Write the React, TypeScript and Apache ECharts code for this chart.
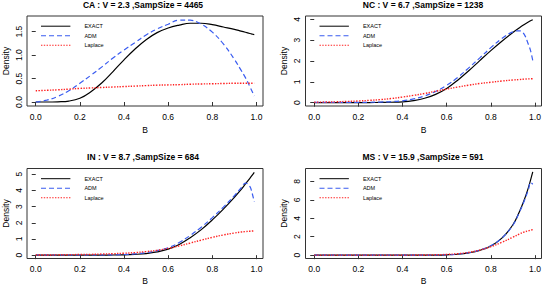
import React, { useEffect, useRef } from "react";
import * as echarts from "echarts";

// Shared B grid (x values)
const bGrid = [0, 0.05, 0.1, 0.15, 0.2, 0.25, 0.3, 0.35, 0.4, 0.45, 0.5, 0.55, 0.6, 0.65, 0.7, 0.75, 0.8, 0.85, 0.9, 0.93, 0.95, 0.97, 0.98, 0.99];

// CA panel
const caExact = [0, 0, 0.005, 0.02, 0.08, 0.22, 0.41, 0.65, 0.9, 1.13, 1.33, 1.48, 1.58, 1.64, 1.68, 1.68, 1.65, 1.6, 1.55, 1.5125, 1.4875, 1.4625, 1.45, 1.4375];
const caAdm = [0, 0.04, 0.12, 0.24, 0.4, 0.57, 0.75, 0.94, 1.11, 1.27, 1.43, 1.56, 1.66, 1.745, 1.745, 1.66, 1.49, 1.24, 0.91, 0.68, 0.52, 0.33, 0.23, 0.13];
const caLaplace = [0.24, 0.25, 0.26, 0.275, 0.29, 0.3, 0.31, 0.32, 0.33, 0.34, 0.35, 0.36, 0.365, 0.37, 0.38, 0.385, 0.39, 0.395, 0.4, 0.4, 0.4, 0.4, 0.4, 0.4];

// NC panel
const ncExact = [0, 0, 0, 0, 0, 0.005, 0.01, 0.02, 0.04, 0.1, 0.21, 0.4, 0.68, 1.08, 1.53, 2.02, 2.5, 2.95, 3.37, 3.6, 3.74, 3.87, 3.93, 3.98];
const ncAdm = [0.01, 0.01, 0.01, 0.01, 0.01, 0.02, 0.03, 0.05, 0.09, 0.18, 0.32, 0.54, 0.83, 1.21, 1.67, 2.15, 2.64, 3.08, 3.4, 3.45, 3.3, 2.8, 2.5, 2.02];
const ncLaplace = [0.02, 0.03, 0.04, 0.06, 0.08, 0.11, 0.15, 0.2, 0.27, 0.35, 0.44, 0.55, 0.65, 0.75, 0.84, 0.92, 0.98, 1.04, 1.09, 1.11, 1.13, 1.14, 1.145, 1.15];

// IN panel
const inExact = [0, 0, 0, 0, 0, 0, 0, 0.01, 0.02, 0.05, 0.1, 0.2, 0.37, 0.66, 1.08, 1.58, 2.18, 2.85, 3.58, 4.05, 4.4, 4.75, 4.93, 5.12];
const inAdm = [0.01, 0.01, 0.01, 0.01, 0.01, 0.01, 0.01, 0.02, 0.04, 0.08, 0.15, 0.28, 0.46, 0.78, 1.22, 1.73, 2.32, 2.97, 3.68, 4.15, 4.45, 4.25, 3.85, 3.3];
const inLaplace = [0.01, 0.01, 0.02, 0.03, 0.04, 0.05, 0.07, 0.09, 0.12, 0.16, 0.22, 0.3, 0.42, 0.57, 0.75, 0.93, 1.1, 1.25, 1.37, 1.43, 1.46, 1.48, 1.49, 1.5];

// MS panel
const msExact = [0, 0, 0, 0, 0, 0, 0, 0, 0, 0, 0, 0.01, 0.04, 0.1, 0.25, 0.52, 1.0, 1.85, 3.3, 4.75, 5.9, 7.3, 8.15, 9.05];
const msAdm = [0.01, 0.01, 0.01, 0.01, 0.01, 0.01, 0.01, 0.01, 0.01, 0.01, 0.01, 0.02, 0.05, 0.12, 0.27, 0.55, 1.03, 1.85, 3.25, 4.7, 5.8, 7.1, 7.9, 7.7];
const msLaplace = [0, 0, 0, 0, 0, 0, 0, 0, 0, 0.01, 0.02, 0.04, 0.08, 0.16, 0.3, 0.55, 0.92, 1.4, 1.95, 2.3, 2.5, 2.65, 2.72, 2.78];

// Titles, tick values, legend
const titles = [
  "CA : V = 2.3 ,SampSize = 4465",
  "NC : V = 6.7 ,SampSize = 1238",
  "IN : V = 8.7 ,SampSize = 684",
  "MS : V = 15.9 ,SampSize = 591",
];
const xTicks = [0, 0.2, 0.4, 0.6, 0.8, 1.0];
const caYTicks = [0, 0.5, 1.0, 1.5];
const ncYTicks = [0, 1, 2, 3, 4];
const inYTicks = [0, 1, 2, 3, 4, 5];
const msYTicks = [0, 2, 4, 6, 8];
const legendNames = ["EXACT", "ADM", "Laplace"];

const FONT = "'Liberation Sans', Arial, Helvetica, sans-serif";
const COLORS = ["#000000", "#3a5cf0", "#ff2020"];
const WIDTHS = [1.2, 1.2, 1.4];
const DASHES: (number[] | null)[] = [null, [5, 3], [1.4, 1.4]];

export default function App() {
  const ref = useRef<HTMLDivElement>(null);

  useEffect(() => {
    if (!ref.current) return;
    const chart = echarts.init(ref.current, null, { renderer: "svg" });

    const panels = [
      { exact: caExact, adm: caAdm, lap: caLaplace, yTicks: caYTicks, yMin: -0.085, yMax: 1.835, fmt: 1 },
      { exact: ncExact, adm: ncAdm, lap: ncLaplace, yTicks: ncYTicks, yMin: -0.16, yMax: 4.16, fmt: 0 },
      { exact: inExact, adm: inAdm, lap: inLaplace, yTicks: inYTicks, yMin: -0.206, yMax: 5.356, fmt: 0 },
      { exact: msExact, adm: msAdm, lap: msLaplace, yTicks: msYTicks, yMin: -0.362, yMax: 9.41, fmt: 0 },
    ];

    const boxLeft = [27, 305.5, 27, 305.5];
    const boxTop = [16, 16, 168.5, 168.5];
    const boxW = 236;
    const boxH = 90;

    const grids = panels.map((_, i) => ({
      left: boxLeft[i],
      top: boxTop[i],
      width: boxW,
      height: boxH,
      show: true,
      borderColor: "#333",
      borderWidth: 1,
      backgroundColor: "transparent",
      containLabel: false,
      outerBoundsMode: "none",
    }));

    const xAxes = panels.map((_, i) => ({
      type: "value",
      gridIndex: i,
      min: -0.0396,
      max: 1.0296,
      axisLine: { show: false },
      splitLine: { show: false },
      axisTick: { show: true, length: 4, customValues: xTicks, lineStyle: { color: "#333", width: 1 } },
      axisLabel: {
        customValues: xTicks,
        formatter: (v: number) => v.toFixed(1),
        fontSize: 8.5,
        color: "#000",
        margin: 6,
        fontFamily: FONT,
      },
      name: "B",
      nameLocation: "middle",
      nameGap: i < 2 ? 19.5 : 17.5,
      nameTextStyle: { fontSize: 8.5, color: "#000", fontFamily: FONT },
    }));

    const yAxes = panels.map((p, i) => ({
      type: "value",
      gridIndex: i,
      min: p.yMin,
      max: p.yMax,
      axisLine: { show: false },
      splitLine: { show: false },
      axisTick: { show: true, length: 4, customValues: p.yTicks, lineStyle: { color: "#333", width: 1 } },
      axisLabel: {
        customValues: p.yTicks,
        formatter: (v: number) => v.toFixed(p.fmt),
        fontSize: 8.5,
        color: "#000",
        rotate: 90,
        margin: 4,
        fontFamily: FONT,
      },
      name: "Density",
      nameLocation: "middle",
      nameGap: 17,
      nameTextStyle: { fontSize: 8.5, color: "#000", fontFamily: FONT },
    }));

    const mk = (vals: number[]) => bGrid.map((b, k) => [b, vals[k]]);

    const series: any[] = [];
    panels.forEach((p, i) => {
      [p.exact, p.adm, p.lap].forEach((vals, k) => {
        series.push({
          type: "line",
          name: legendNames[k],
          xAxisIndex: i,
          yAxisIndex: i,
          data: mk(vals),
          symbol: "none",
          smooth: 0.4,
          lineStyle: { color: COLORS[k], width: WIDTHS[k], type: DASHES[k] || "solid" },
          itemStyle: { color: COLORS[k] },
        });
      });
    });

    const graphics: any[] = [];
    const titleCx = [143, 423, 143, 423];
    const titleCy = [4.5, 4.5, 157, 157];
    titles.forEach((t, i) => {
      graphics.push({
        type: "text",
        x: titleCx[i],
        y: titleCy[i],
        style: {
          text: t,
          textAlign: "center",
          textVerticalAlign: "middle",
          fontSize: 8.5,
          fontWeight: "bold",
          fontFamily: FONT,
          fill: "#000",
        },
      });
    });

    // Legend (drawn inside each plot box, top-left)
    const rowOffsets = [10.2, 19.7, 29.2];
    panels.forEach((_, i) => {
      const lx = boxLeft[i] + 14;
      legendNames.forEach((name, k) => {
        const y = boxTop[i] + rowOffsets[k];
        graphics.push({
          type: "line",
          shape: { x1: lx, y1: y, x2: lx + 29.4, y2: y },
          style: {
            stroke: COLORS[k],
            lineWidth: k === 0 ? 1 : 1.1,
            lineDash: DASHES[k] || null,
          },
        });
        graphics.push({
          type: "text",
          x: lx + 43.4,
          y: y,
          style: {
            text: name,
            textAlign: "left",
            textVerticalAlign: "middle",
            fontSize: 5.5,
            fontFamily: FONT,
            fill: "#000",
          },
        });
      });
    });

    chart.setOption({
      animation: false,
      backgroundColor: "#fff",
      textStyle: { fontFamily: FONT },
      grid: grids,
      xAxis: xAxes,
      yAxis: yAxes,
      series,
      graphic: graphics,
    } as any);

    return () => chart.dispose();
  }, []);

  return (
    <div
      ref={ref}
      style={{ position: "fixed", left: 0, top: 0, width: 542, height: 285, background: "#fff" }}
    />
  );
}
